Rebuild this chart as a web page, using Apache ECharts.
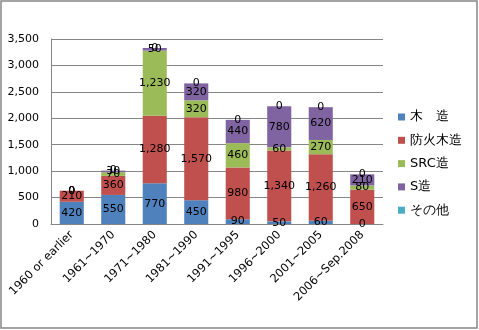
<!DOCTYPE html>
<html>
<head>
<meta charset="utf-8">
<script src="https://cdn.jsdelivr.net/npm/echarts@6/dist/echarts.min.js"></script>
<style>
  html, body { margin: 0; padding: 0; background: #fff; }
  #chart { width: 479px; height: 330px; }
</style>
</head>
<body>
<div id="chart"></div>
<script>
// Building stock by construction period and structure type
const periods = ['1960 or earlier', '1961~1970', '1971~1980', '1981~1990', '1991~1995', '1996~2000', '2001~2005', '2006~Sep.2008'];
const seriesNames = ['木　造', '防火木造', 'SRC造', 'S造', 'その他'];
const wooden      = [420, 550, 770, 450, 90, 50, 60, 0];
const fireWooden  = [210, 360, 1280, 1570, 980, 1340, 1260, 650];
const src         = [0, 70, 1230, 320, 460, 60, 270, 80];
const steel       = [0, 30, 50, 320, 440, 780, 620, 210];
const other       = [0, 0, 0, 0, 0, 0, 0, 0];
const yTicks = { min: 0, max: 3500, step: 500 };

const colors = ['#4F81BD', '#C0504D', '#9BBB59', '#8064A2', '#4BACC6'];
const values = [wooden, fireWooden, src, steel, other];
const font = 'DejaVu Sans';
const fmt = v => Number(v).toLocaleString('en-US');

const chart = echarts.init(document.getElementById('chart'), null, { renderer: 'canvas' });
chart.setOption({
  animation: false,
  backgroundColor: '#fff',
  color: colors,
  graphic: [{
    type: 'rect',
    shape: { x: 1, y: 1, width: 476, height: 327 },
    style: { fill: 'none', stroke: '#868686', lineWidth: 1.5 },
    silent: true
  }],
  grid: { left: 51, top: 39, right: 96, bottom: 106 },
  legend: {
    orient: 'vertical',
    left: 393,
    top: 105,
    itemWidth: 7,
    itemHeight: 7,
    itemGap: 9.3,
    icon: 'rect',
    textStyle: { fontFamily: font, fontSize: 13, color: '#000', lineHeight: 14 },
    data: seriesNames
  },
  xAxis: {
    type: 'category',
    data: periods,
    axisLine: { lineStyle: { color: '#868686' } },
    axisTick: { show: false },
    axisLabel: { rotate: 45, interval: 0, margin: 9, fontFamily: font, fontSize: 11.5, color: '#000' }
  },
  yAxis: {
    type: 'value',
    min: yTicks.min,
    max: yTicks.max,
    interval: yTicks.step,
    axisLine: { show: true, lineStyle: { color: '#868686' } },
    axisTick: { show: false },
    splitLine: { lineStyle: { color: '#868686' } },
    axisLabel: { margin: 12, fontFamily: font, fontSize: 11, color: '#000', formatter: fmt }
  },
  series: seriesNames.map((name, i) => ({
    name,
    type: 'bar',
    stack: 'total',
    barWidth: '58%',
    data: values[i],
    itemStyle: { color: colors[i] },
    label: {
      show: true,
      position: 'inside',
      fontFamily: font,
      fontSize: 11,
      color: '#000',
      formatter: p => fmt(p.value)
    }
  }))
});
</script>
</body>
</html>
